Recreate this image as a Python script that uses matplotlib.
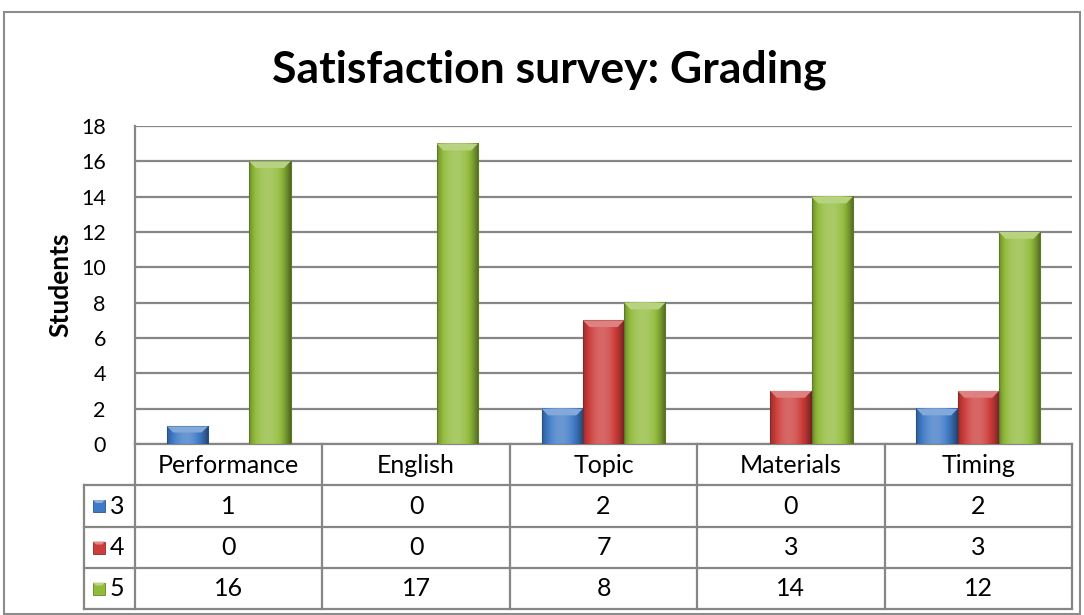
import numpy as np
import matplotlib.pyplot as plt
from matplotlib.colors import to_rgb
from matplotlib.patches import Polygon, Rectangle

categories = ["Performance", "English", "Topic", "Materials", "Timing"]
series_names = ["3", "4", "5"]
grade_3 = [1, 0, 2, 0, 2]
grade_4 = [0, 0, 7, 3, 3]
grade_5 = [16, 17, 8, 14, 12]
series_values = [grade_3, grade_4, grade_5]
colors = ["#3f7ac6", "#cc3d3b", "#92bb3c"]
y_ticks = list(range(0, 20, 2))

W, H = 1084, 615
plt.rcParams['font.family'] = ['Lato', 'DejaVu Sans']
fig = plt.figure(figsize=(W / 100, H / 100), dpi=100)
fig.patch.set_facecolor("white")

# overlay axes in pixel coordinates for border and data table
ov = fig.add_axes([0, 0, 1, 1])
ov.set_xlim(0, W)
ov.set_ylim(H, 0)
ov.axis("off")

ax_l, ax_r, ax_t, ax_b = 135, 1072, 126, 444
ax = fig.add_axes([ax_l / W, 1 - ax_b / H, (ax_r - ax_l) / W, (ax_b - ax_t) / H])
ax.set_zorder(2)
ax.patch.set_alpha(0)


def shade(c, f):
    r = np.array(to_rgb(c))
    if f >= 0:
        return tuple(r + (1 - r) * f)
    return tuple(r * (1 + f))


bw = 0.22
n = len(series_values)
for i, (vals, c) in enumerate(zip(series_values, colors)):
    for j, v in enumerate(vals):
        if v <= 0:
            continue
        x0 = j + (i - (n - 1) / 2) * bw - bw / 2
        x1 = x0 + bw
        t = np.linspace(0, 1, 40)
        prof = 0.22 - 2.2 * (t - 0.45) ** 2
        grad = np.array([shade(c, p) for p in prof])[None, :, :]
        ax.imshow(grad, extent=[x0, x1, 0, v], aspect="auto", zorder=3, interpolation="bilinear")
        ax.add_patch(Rectangle((x0, 0), bw, v, fill=False, ec=shade(c, -0.35), lw=0.8, zorder=4))
        dx = 0.035
        dy = min(0.38, v * 0.35)
        ax.add_patch(Polygon([(x0, v), (x1, v), (x1 - dx, v - dy), (x0 + dx, v - dy)],
                             closed=True, fc=shade(c, 0.35), ec="none", zorder=4))

ax.set_xlim(-0.5, len(categories) - 0.5)
ax.set_ylim(0, 18)
ax.set_yticks(y_ticks)
ax.yaxis.grid(True, color="#868686", lw=1.6, zorder=1)
ax.set_axisbelow(True)
ax.set_xticks([])
ax.tick_params(axis="y", length=0, labelsize=15.5, pad=21)
for s in ["top", "right", "bottom"]:
    ax.spines[s].set_visible(False)
ax.spines["left"].set_color("#868686")
ax.spines["left"].set_linewidth(1.6)
ax.set_ylabel("Students", fontsize=19, fontweight="bold", labelpad=6)

fig.suptitle("Satisfaction survey: Grading", x=549 / W, y=1 - 70 / H, va="center",
             fontsize=32, fontweight="bold")

# outer chart border
ov.add_patch(Rectangle((4, 12), 1076, 602, fill=False, ec="#8c8c8c", lw=1.5))

# data table
col_w = (ax_r - ax_l) / len(categories)
row_top = [ax_b, 485, 527, 568]
row_bot = 609
tbl_left = 84
lc = "#868686"
ov.plot([ax_l, ax_r], [ax_b, ax_b], color=lc, lw=1.6)
for y in row_top[1:] + [row_bot]:
    ov.plot([tbl_left, ax_r], [y, y], color=lc, lw=1.6)
ov.plot([tbl_left, tbl_left], [row_top[1], row_bot], color=lc, lw=1.6)
for k in range(len(categories) + 1):
    x = ax_l + k * col_w
    ov.plot([x, x], [ax_b, row_bot], color=lc, lw=1.6)

fs = 18
for k, cat in enumerate(categories):
    ov.text(ax_l + (k + 0.5) * col_w, (row_top[0] + row_top[1]) / 2 + 1, cat,
            ha="center", va="center", fontsize=fs)
rows_y = [(row_top[1] + row_top[2]) / 2, (row_top[2] + row_top[3]) / 2, (row_top[3] + row_bot) / 2]
for i, (name, vals, c) in enumerate(zip(series_names, series_values, colors)):
    yc = rows_y[i]
    ov.add_patch(Rectangle((93, yc - 6), 12, 12, fc=c, ec=shade(c, -0.3), lw=0.6))
    ov.add_patch(Polygon([(93, yc - 6), (105, yc - 6), (102, yc - 3), (96, yc - 3)],
                         closed=True, fc=shade(c, 0.4), ec="none"))
    ov.text(110, yc, name, ha="left", va="center", fontsize=fs)
    for k, v in enumerate(vals):
        ov.text(ax_l + (k + 0.5) * col_w, yc, str(v), ha="center", va="center", fontsize=fs)

fig.savefig("out.png", dpi=100)
